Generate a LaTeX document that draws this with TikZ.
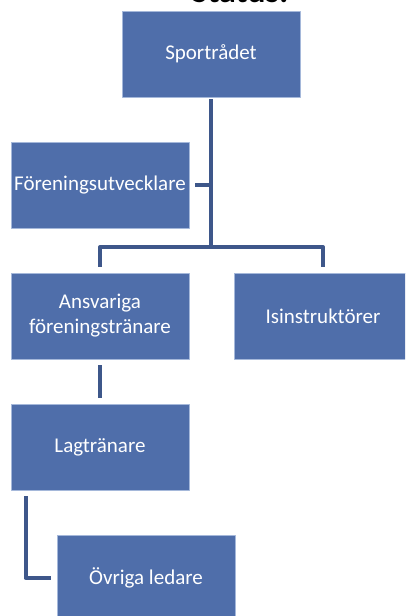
\documentclass[tikz,border=0pt]{standalone}
\usepackage{fontspec}
\setmainfont{Carlito}
\definecolor{boxblue}{RGB}{79,110,170}
\definecolor{lineblue}{RGB}{62,87,138}
\definecolor{edgeblue}{RGB}{165,184,218}
\begin{document}
\begin{tikzpicture}[x=1pt,y=-1pt,line join=round,
	orgbox/.style={fill=boxblue,draw=edgeblue,line width=0.8pt,minimum width=178pt,minimum height=86pt,
		inner sep=0pt,align=center,text=white,font=\fontsize{21}{25}\selectfont},
	conn/.style={draw=lineblue,line width=4pt,shorten <=6pt,shorten >=6pt}]
	\useasboundingbox (0,0) rectangle (405,616);
	\clip (0,0) rectangle (405,616);
	\node[anchor=base,inner sep=0pt,font=\fontsize{34}{40}\selectfont\bfseries] (status) at (240,2) {Status:};
	\node[orgbox] (sport) at (211,54) {Sportrådet};
	\node[orgbox] (utv) at (100,185) {Föreningsutvecklare};
	\node[orgbox] (ansv) at (100,316) {Ansvariga\\föreningstränare};
	\node[orgbox] (isin) at (323,316) {Isinstruktörer};
	\node[orgbox] (lag) at (100,447) {Lagtränare};
	\node[orgbox] (ovr) at (146,578) {Övriga ledare};
	\coordinate (bar) at (211,247);
	% connectors
	\draw[conn,shorten <=2pt,shorten >=0pt] (sport.south) -- (bar);
	\draw[conn,shorten >=0pt] (utv.east) -- (utv.east -| bar);
	\draw[conn] (ansv.north) -- (ansv.north |- bar) -- (isin.north |- bar) -- (isin.north);
	\draw[conn] (ansv.south) -- (lag.north);
	\draw[conn] ([xshift=15pt]lag.south west) -- ([xshift=15pt]lag.south west |- ovr.west) -- (ovr.west);
\end{tikzpicture}
\end{document}
